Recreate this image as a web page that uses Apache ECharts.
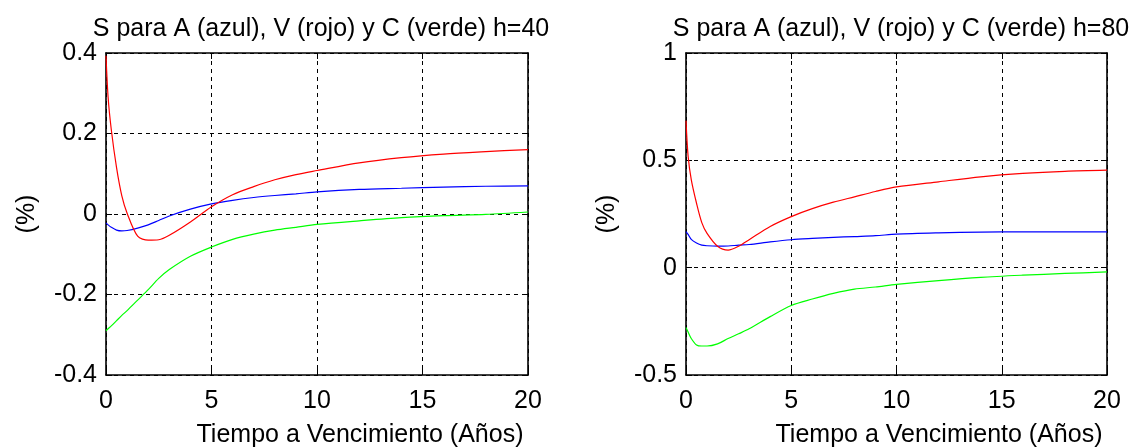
<!DOCTYPE html>
<html>
<head>
<meta charset="utf-8">
<script src="https://cdn.jsdelivr.net/npm/echarts@6/dist/echarts.min.js"></script>
<style>
  html, body { margin: 0; padding: 0; background: #fff; }
  #chart { width: 1141px; height: 448px; }
</style>
</head>
<body>
<div id="chart"></div>
<script>
// Tiempo a vencimiento (años), común a ambos paneles
const years = [0, 0.1, 0.25, 0.5, 0.75, 1, 1.5, 2, 2.5, 3, 4, 5, 6, 7, 8, 9, 10, 12, 14, 16, 18, 20];

// h=40
const azul40 = [-0.022, -0.027, -0.033, -0.04, -0.042, -0.041, -0.035, -0.027, -0.016, -0.005, 0.012, 0.025, 0.034, 0.041, 0.046, 0.05, 0.055, 0.061, 0.064, 0.067, 0.069, 0.07];
const rojo40 = [0.393, 0.29, 0.21, 0.115, 0.045, 0.002, -0.055, -0.065, -0.064, -0.053, -0.02, 0.018, 0.048, 0.068, 0.085, 0.098, 0.108, 0.127, 0.14, 0.149, 0.155, 0.16];
const verde40 = [-0.29, -0.285, -0.278, -0.265, -0.252, -0.24, -0.214, -0.188, -0.16, -0.138, -0.105, -0.082, -0.063, -0.05, -0.04, -0.033, -0.026, -0.017, -0.009, -0.004, -0.001, 0.005];

// h=80
const azul80 = [0.168, 0.155, 0.132, 0.115, 0.105, 0.102, 0.1, 0.101, 0.105, 0.108, 0.12, 0.13, 0.136, 0.141, 0.145, 0.149, 0.156, 0.162, 0.166, 0.167, 0.167, 0.167];
const rojo80 = [0.685, 0.52, 0.41, 0.3, 0.21, 0.16, 0.1, 0.082, 0.1, 0.13, 0.192, 0.238, 0.275, 0.305, 0.33, 0.355, 0.376, 0.4, 0.423, 0.439, 0.449, 0.454];
const verde80 = [-0.279, -0.3, -0.33, -0.36, -0.365, -0.365, -0.355, -0.33, -0.308, -0.285, -0.228, -0.176, -0.146, -0.12, -0.1, -0.09, -0.078, -0.06, -0.045, -0.035, -0.027, -0.02];

const titulos = ['S para A (azul), V (rojo) y C (verde) h=40', 'S para A (azul), V (rojo) y C (verde) h=80'];
const xEtiqueta = 'Tiempo a Vencimiento (Años)';
const yEtiqueta = '(%)';

const font = "'Liberation Sans', Arial, sans-serif";
const fs = 25;

const pares = (ys) => years.map((x, i) => [x, ys[i]]);

const grids = [
  { left: 106, top: 53, width: 422, height: 322 },
  { left: 686, top: 53, width: 421, height: 322 }
];

const dashed = { show: true, lineStyle: { color: '#000', type: [4, 4], width: 1 } };
const frame = { show: true, onZero: false, lineStyle: { color: '#000', width: 1.6 } };
const tick = { show: true, inside: true, length: 6, lineStyle: { color: '#000' } };

const xAxes = [];
const yAxes = [];
const yRanges = [[-0.4, 0.4, 0.2], [-0.5, 1, 0.5]];
[0, 1].forEach(g => {
  xAxes.push({
    type: 'value', gridIndex: g, min: 0, max: 20, interval: 5, position: 'bottom',
    axisLine: frame, axisTick: tick, splitLine: dashed,
    axisLabel: { color: '#000', fontFamily: font, fontSize: fs, margin: 14 }
  });
  xAxes.push({
    type: 'value', gridIndex: g, min: 0, max: 20, interval: 5, position: 'top',
    axisLine: frame, axisTick: tick, splitLine: { show: false }, axisLabel: { show: false }
  });
  const r = yRanges[g];
  yAxes.push({
    type: 'value', gridIndex: g, min: r[0], max: r[1], interval: r[2], position: 'left',
    axisLine: frame, axisTick: tick, splitLine: dashed,
    axisLabel: { color: '#000', fontFamily: font, fontSize: fs, margin: 9 },
    name: yEtiqueta, nameLocation: 'middle', nameRotate: 90, nameGap: 66,
    nameTextStyle: { color: '#000', fontFamily: font, fontSize: fs }
  });
  yAxes.push({
    type: 'value', gridIndex: g, min: r[0], max: r[1], interval: r[2], position: 'right',
    axisLine: frame, axisTick: tick, splitLine: { show: false }, axisLabel: { show: false }
  });
});

const serie = (g, ys, color) => ({
  type: 'line', xAxisIndex: g * 2, yAxisIndex: g * 2, data: pares(ys),
  showSymbol: false, smooth: 0.3, lineStyle: { color: color, width: 1.2 }, silent: true, z: 3
});

const textStyle = { color: '#000', fontFamily: font, fontSize: fs, fontWeight: 'normal' };

const chart = echarts.init(document.getElementById('chart'));
chart.setOption({
  animation: false,
  backgroundColor: '#fff',
  title: [
    { text: titulos[0], left: 316, top: 12, textAlign: 'center', textStyle: textStyle },
    { text: titulos[1], left: 896, top: 12, textAlign: 'center', textStyle: textStyle },
    { text: xEtiqueta, left: 355, top: 418, textAlign: 'center', textStyle: textStyle },
    { text: xEtiqueta, left: 934, top: 418, textAlign: 'center', textStyle: textStyle }
  ],
  grid: grids,
  xAxis: xAxes,
  yAxis: yAxes,
  series: [
    serie(0, azul40, '#0000ff'),
    serie(0, rojo40, '#ff0000'),
    serie(0, verde40, '#00ff00'),
    serie(1, azul80, '#0000ff'),
    serie(1, rojo80, '#ff0000'),
    serie(1, verde80, '#00ff00')
  ]
});
</script>
</body>
</html>
